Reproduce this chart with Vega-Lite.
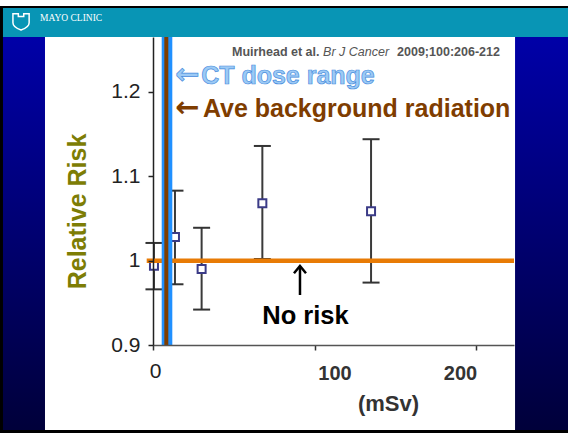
{
  "$schema": "https://vega.github.io/schema/vega-lite/v6.json",
  "width": 361,
  "height": 308,
  "autosize": {"type": "none"},
  "padding": {"left": 153, "top": 37, "right": 54, "bottom": 88},
  "background": "white",
  "config": {"view": {"stroke": null}, "font": "Liberation Sans"},
  "datasets": {
    "risk": [
      {"dose": 0.6, "rr": 0.994, "lo": 0.966, "hi": 1.021},
      {"dose": 13.6, "rr": 1.028, "lo": 0.972, "hi": 1.083},
      {"dose": 30.1, "rr": 0.99, "lo": 0.942, "hi": 1.039},
      {"dose": 67.7, "rr": 1.068, "lo": 1.002, "hi": 1.136},
      {"dose": 135, "rr": 1.0585, "lo": 0.974, "hi": 1.144}
    ]
  },
  "layer": [
    {
      "data": {"values": [{"x": -94.74, "x2": 256.97, "y": 0.7957, "y2": 1.302}]},
      "mark": {"type": "rect", "color": "#000000"},
      "encoding": {
        "x": {"field": "x", "type": "quantitative", "scale": {"domain": [0, 223.5], "nice": false, "zero": false},
          "axis": {
            "values": [0, 100, 200], "title": "(mSv)", "grid": false, "zindex": 1,
            "labelFlush": false, "labelOverlap": false,
            "domainColor": "#555555", "domainWidth": 1.5,
            "tickColor": "#333333", "tickSize": 5, "tickWidth": 1.5,
            "labelFont": "Liberation Sans",
            "labelFontSize": {"condition": {"test": "datum.value == 0", "value": 21}, "value": 20},
            "labelFontWeight": {"condition": {"test": "datum.value == 0", "value": "normal"}, "value": "bold"},
            "labelColor": {"condition": {"test": "datum.value == 0", "value": "#222222"}, "value": "#333333"},
            "labelOffset": {"condition": [{"test": "datum.value == 100", "value": 20}, {"test": "datum.value == 200", "value": -16}], "value": 2},
            "labelPadding": {"condition": {"test": "datum.value == 0", "value": 10}, "value": 13},
            "titleFont": "Liberation Sans", "titleFontSize": 22, "titleFontWeight": "bold", "titleColor": "#333333",
            "titleX": 235, "titleY": 58, "titleBaseline": "middle", "titleAlign": "center"
          }
        },
        "x2": {"field": "x2"},
        "y": {"field": "y", "type": "quantitative", "scale": {"domain": [0.9, 1.2652], "nice": false, "zero": false},
          "axis": {
            "values": [0.9, 1, 1.1, 1.2], "title": "Relative Risk", "grid": false, "zindex": 1,
            "labelExpr": "datum.value == 1 ? '1' : format(datum.value, '.1f')",
            "domainColor": "#222222", "domainWidth": 1.5,
            "tickColor": "#222222", "tickSize": 5, "tickWidth": 1.5,
            "labelFont": "Liberation Sans", "labelFontSize": 21, "labelColor": "#222222", "labelPadding": 8,
            "titleFont": "Liberation Sans", "titleFontSize": 25, "titleFontWeight": "bold", "titleColor": "#7d7d05",
            "titleX": -76, "titleY": 174, "titleAngle": -90, "titleBaseline": "middle", "titleAlign": "center"
          }
        },
        "y2": {"field": "y2"}
      }
    },
    {
      "data": {"values": [{"x": -92.88, "x2": 256.97, "y": 0.7992, "y2": 1.2665}]},
      "mark": {"type": "rect", "color": {"gradient": "linear", "x1": 0, "y1": 0, "x2": 0, "y2": 1,
        "stops": [{"offset": 0, "color": "#0000a8"}, {"offset": 1, "color": "#00003a"}]}},
      "encoding": {
        "x": {"field": "x", "type": "quantitative", "scale": {"domain": [0, 223.5], "nice": false, "zero": false}},
        "x2": {"field": "x2"},
        "y": {"field": "y", "type": "quantitative", "scale": {"domain": [0.9, 1.2652], "nice": false, "zero": false}},
        "y2": {"field": "y2"}
      }
    },
    {
      "data": {"values": [{"x": -92.88, "x2": 256.97, "y": 1.2652, "y2": 1.2996}]},
      "mark": {"type": "rect", "color": "#0895b5"},
      "encoding": {
        "x": {"field": "x", "type": "quantitative"},
        "x2": {"field": "x2"},
        "y": {"field": "y", "type": "quantitative"},
        "y2": {"field": "y2"}
      }
    },
    {
      "data": {"values": [{"x": -66.87, "x2": 224.15, "y": 0.7992, "y2": 1.2652}]},
      "mark": {"type": "rect", "color": "#ffffff"},
      "encoding": {
        "x": {"field": "x", "type": "quantitative"},
        "x2": {"field": "x2"},
        "y": {"field": "y", "type": "quantitative"},
        "y2": {"field": "y2"}
      }
    },
    {
      "data": {"values": [{"x": -69.97, "y": 1.2842, "t": "MAYO CLINIC"}]},
      "mark": {"type": "text", "font": "Liberation Serif", "fontSize": 9.5, "color": "#ffffff", "align": "left", "baseline": "alphabetic"},
      "encoding": {
        "x": {"field": "x", "type": "quantitative"},
        "y": {"field": "y", "type": "quantitative"},
        "text": {"field": "t"}
      }
    },
    {
      "data": {"values": [{"x": -81.7, "y": 1.2842}]},
      "mark": {"type": "point", "shape": "M-0.9,-0.8L-0.3,-0.8L-0.3,-0.5L0.3,-0.5L0.3,-0.8L0.9,-0.8L0.9,0.2C0.9,0.7 0.3,0.9 0,1C-0.3,0.9 -0.9,0.7 -0.9,0.2Z", "size": 324, "filled": false, "stroke": "#ffffff", "strokeWidth": 1.5, "opacity": 1},
      "encoding": {
        "x": {"field": "x", "type": "quantitative"},
        "y": {"field": "y", "type": "quantitative"}
      }
    },
    {
      "data": {"name": "risk"},
      "mark": {"type": "rule", "color": "#3a3a3a", "strokeWidth": 2},
      "encoding": {
        "x": {"field": "dose", "type": "quantitative"},
        "y": {"field": "lo", "type": "quantitative"},
        "y2": {"field": "hi"}
      }
    },
    {
      "data": {"name": "risk"},
      "mark": {"type": "tick", "orient": "horizontal", "color": "#333333", "size": 17, "thickness": 2, "opacity": 1},
      "encoding": {
        "x": {"field": "dose", "type": "quantitative"},
        "y": {"field": "lo", "type": "quantitative"}
      }
    },
    {
      "data": {"name": "risk"},
      "mark": {"type": "tick", "orient": "horizontal", "color": "#333333", "size": 17, "thickness": 2, "opacity": 1},
      "encoding": {
        "x": {"field": "dose", "type": "quantitative"},
        "y": {"field": "hi", "type": "quantitative"}
      }
    },
    {
      "data": {"name": "risk"},
      "mark": {"type": "point", "shape": "square", "size": 64, "filled": true, "fill": "#ffffff", "stroke": "#3b3b87", "strokeWidth": 2, "opacity": 1},
      "encoding": {
        "x": {"field": "dose", "type": "quantitative"},
        "y": {"field": "rr", "type": "quantitative"}
      }
    },
    {
      "data": {"values": [{"x": -3.9, "x2": 223.5, "y": 1.0}]},
      "mark": {"type": "rule", "color": "#e87b05", "strokeWidth": 4.5},
      "encoding": {
        "x": {"field": "x", "type": "quantitative"},
        "x2": {"field": "x2"},
        "y": {"field": "y", "type": "quantitative"}
      }
    },
    {
      "data": {"values": [{"x": 5.39, "x2": 11.95, "y": 0.9, "y2": 1.2652}]},
      "mark": {"type": "rect", "color": "#2090ff"},
      "encoding": {
        "x": {"field": "x", "type": "quantitative"},
        "x2": {"field": "x2"},
        "y": {"field": "y", "type": "quantitative"},
        "y2": {"field": "y2"}
      }
    },
    {
      "data": {"values": [{"x": 8.24, "y": 0.9, "y2": 1.2652}]},
      "mark": {"type": "rule", "color": "#7f3d00", "strokeWidth": 4},
      "encoding": {
        "x": {"field": "x", "type": "quantitative"},
        "y": {"field": "y", "type": "quantitative"},
        "y2": {"field": "y2"}
      }
    },
    {
      "data": {"values": [{"x": 48.9, "y": 1.2427, "t": "Muirhead et al."}, {"x": 151.1, "y": 1.2427, "t": "2009;100:206-212"}]},
      "mark": {"type": "text", "fontSize": 12.5, "fontWeight": "bold", "color": "#555555", "align": "left", "baseline": "alphabetic"},
      "encoding": {
        "x": {"field": "x", "type": "quantitative"},
        "y": {"field": "y", "type": "quantitative"},
        "text": {"field": "t"}
      }
    },
    {
      "data": {"values": [{"x": 105.3, "y": 1.2427, "t": "Br J Cancer"}]},
      "mark": {"type": "text", "fontSize": 12.5, "fontStyle": "italic", "fontWeight": "normal", "color": "#555555", "align": "left", "baseline": "alphabetic"},
      "encoding": {
        "x": {"field": "x", "type": "quantitative"},
        "y": {"field": "y", "type": "quantitative"},
        "text": {"field": "t"}
      }
    },
    {
      "data": {"values": [{"x": 13.6, "y": 1.2091, "t": "←"}]},
      "mark": {"type": "text", "font": "DejaVu Sans", "fontSize": 29, "fontWeight": "bold", "fill": "#9ccaf5", "stroke": "#4a8ede", "strokeWidth": 0.7, "align": "left", "baseline": "alphabetic"},
      "encoding": {
        "x": {"field": "x", "type": "quantitative"},
        "y": {"field": "y", "type": "quantitative"},
        "text": {"field": "t"}
      }
    },
    {
      "data": {"values": [{"x": 29.8, "y": 1.2091, "t": "CT dose range"}]},
      "mark": {"type": "text", "fontSize": 25, "fontWeight": "bold", "fill": "#9ccaf5", "stroke": "#4a8ede", "strokeWidth": 0.7, "align": "left", "baseline": "alphabetic"},
      "encoding": {
        "x": {"field": "x", "type": "quantitative"},
        "y": {"field": "y", "type": "quantitative"},
        "text": {"field": "t"}
      }
    },
    {
      "data": {"values": [{"x": 13.6, "y": 1.1704, "t": "←"}]},
      "mark": {"type": "text", "font": "DejaVu Sans", "fontSize": 29, "fontWeight": "bold", "color": "#7f3d00", "align": "left", "baseline": "alphabetic"},
      "encoding": {
        "x": {"field": "x", "type": "quantitative"},
        "y": {"field": "y", "type": "quantitative"},
        "text": {"field": "t"}
      }
    },
    {
      "data": {"values": [{"x": 30.9, "y": 1.1704, "t": "Ave background radiation"}]},
      "mark": {"type": "text", "fontSize": 25, "fontWeight": "bold", "color": "#7f3d00", "align": "left", "baseline": "alphabetic"},
      "encoding": {
        "x": {"field": "x", "type": "quantitative"},
        "y": {"field": "y", "type": "quantitative"},
        "text": {"field": "t"}
      }
    },
    {
      "data": {"values": [{"x": 94.4, "y": 0.9249, "t": "No risk"}]},
      "mark": {"type": "text", "fontSize": 25.5, "fontWeight": "bold", "color": "#000000", "align": "center", "baseline": "alphabetic"},
      "encoding": {
        "x": {"field": "x", "type": "quantitative"},
        "y": {"field": "y", "type": "quantitative"},
        "text": {"field": "t"}
      }
    },
    {
      "data": {"values": [{"x": 91, "y": 0.9593, "y2": 0.9925}]},
      "mark": {"type": "rule", "color": "#000000", "strokeWidth": 2.5},
      "encoding": {
        "x": {"field": "x", "type": "quantitative"},
        "y": {"field": "y", "type": "quantitative"},
        "y2": {"field": "y2"}
      }
    },
    {
      "data": {"values": [{"x": 91, "y": 0.9937}]},
      "mark": {"type": "point", "shape": "M-1,1.2L0,0L1,1.2", "size": 144, "filled": false, "stroke": "#000000", "strokeWidth": 2.5, "opacity": 1},
      "encoding": {
        "x": {"field": "x", "type": "quantitative"},
        "y": {"field": "y", "type": "quantitative"}
      }
    }
  ]
}
